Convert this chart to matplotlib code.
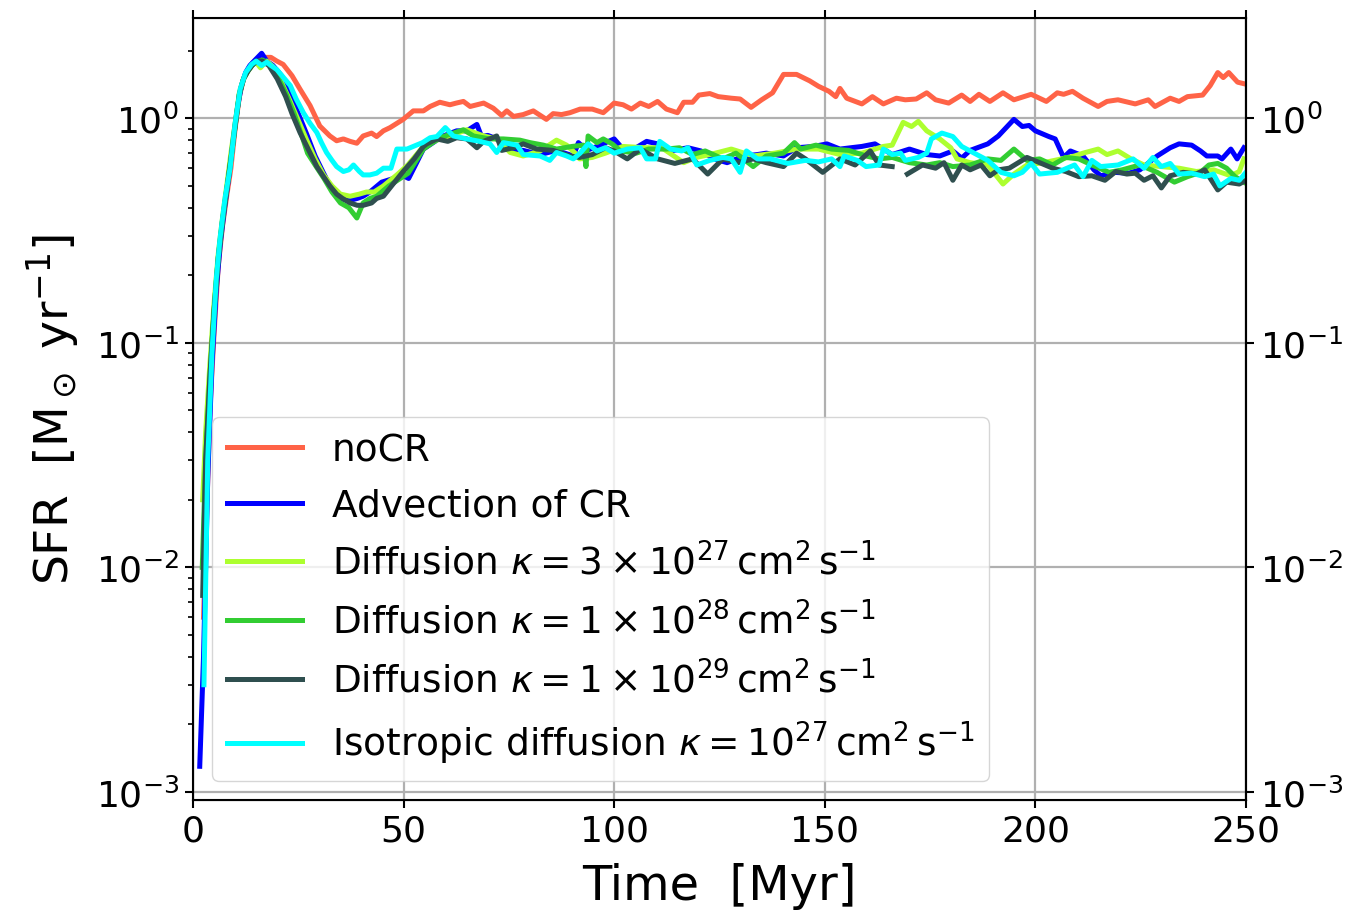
import numpy as np
import matplotlib
matplotlib.use("Agg")
import matplotlib.pyplot as plt

# ---- data: (time [Myr], SFR [Msun/yr]) ----
noCR = [(2.5,0.006),(4,0.05),(5,0.11),(6,0.22),(7,0.33),(8,0.45),(9,0.6),(10,0.9),(11,1.25),(12,1.5),(13,1.65),(14,1.75),(15,1.82),(16.7,1.87),(18.5,1.87),(19.9,1.8),(21.4,1.74),(23.5,1.55),(25.4,1.35),(27.8,1.14),(30.1,0.925),(32.5,0.835),(34.1,0.795),(35.7,0.81),(37.3,0.79),(38.9,0.775),(40.4,0.835),(42.4,0.86),(43.6,0.83),(45.2,0.88),(46.8,0.91),(49.9,0.99),(52.3,1.08),(54.7,1.08),(56.3,1.13),(58.6,1.18),(61,1.15),(62.5,1.17),(64.2,1.19),(65.8,1.13),(69,1.17),(71.3,1.11),(73.3,1.03),(74.5,1.08),(76.1,1.02),(78.4,1.04),(80.8,1.08),(83.9,0.99),(85.5,1.05),(87.5,1.04),(89.5,1.06),(91.9,1.10),(94.8,1.10),(97.4,1.06),(100,1.17),(102.1,1.15),(104.1,1.10),(106.2,1.17),(108.2,1.13),(110.3,1.19),(112.4,1.10),(115,1.06),(116.5,1.18),(118.6,1.18),(120.1,1.27),(122.7,1.29),(124.7,1.25),(127.8,1.23),(129.9,1.22),(132.5,1.12),(135,1.21),(137.6,1.30),(140.2,1.57),(143.3,1.57),(146.4,1.47),(148.5,1.39),(151,1.32),(152.6,1.25),(153.6,1.36),(155.2,1.23),(158.8,1.16),(161.3,1.25),(163.9,1.16),(167,1.23),(169.1,1.21),(171.7,1.22),(174.2,1.30),(176.3,1.21),(179.4,1.17),(182.5,1.27),(184.5,1.19),(186.6,1.28),(189.2,1.19),(192.3,1.30),(194.9,1.21),(199,1.28),(202.6,1.19),(205.2,1.30),(206.7,1.28),(208.8,1.32),(211.3,1.23),(214.9,1.13),(217,1.19),(219.6,1.21),(223.7,1.16),(226.8,1.21),(228.4,1.13),(232,1.23),(234.1,1.19),(236.1,1.25),(239.7,1.27),(241.5,1.40),(243.3,1.60),(244.6,1.52),(245.9,1.60),(248,1.45),(250,1.42)]

advection = [(1.6,0.0013),(2.5,0.004),(3.5,0.025),(4.5,0.08),(5.5,0.17),(6.5,0.28),(7.5,0.4),(8.5,0.55),(9.5,0.8),(10.5,1.1),(11.5,1.4),(12.5,1.6),(13.5,1.72),(14.5,1.8),(16.3,1.95),(17.5,1.8),(19,1.72),(21,1.55),(23,1.3),(25,1.05),(27,0.85),(29,0.68),(31,0.57),(33,0.48),(35,0.44),(37,0.43),(39,0.44),(40.4,0.45),(42,0.47),(44.8,0.52),(47.6,0.54),(49.5,0.56),(51.2,0.54),(53,0.63),(54.7,0.73),(57,0.78),(59.4,0.835),(62.6,0.88),(65,0.88),(67.4,0.94),(68.5,0.83),(70,0.84),(72.1,0.81),(75.3,0.73),(78.4,0.72),(82.4,0.69),(86.3,0.72),(90.3,0.68),(91.5,0.78),(93.5,0.72),(95.9,0.75),(100,0.81),(102.1,0.73),(105.2,0.74),(107.7,0.79),(110.3,0.77),(113.4,0.716),(117.5,0.74),(120.6,0.716),(123.7,0.66),(126.8,0.635),(130.9,0.68),(134,0.69),(136.1,0.70),(140.2,0.68),(143.3,0.74),(147.4,0.75),(150.5,0.77),(153.6,0.73),(156.2,0.74),(158.8,0.75),(161.9,0.77),(163.9,0.73),(166,0.69),(170.1,0.73),(174.2,0.69),(177.3,0.68),(180.4,0.716),(182.5,0.665),(184.5,0.72),(188.7,0.77),(191.2,0.835),(194.9,0.99),(196.9,0.92),(198.5,0.93),(200,0.88),(203.2,0.83),(204.7,0.81),(206.7,0.67),(208.3,0.716),(211.3,0.68),(213.9,0.59),(215.5,0.555),(218.6,0.575),(222.2,0.57),(224.8,0.59),(228.9,0.68),(232,0.74),(234.1,0.77),(237.1,0.76),(239.2,0.716),(240.7,0.68),(243.3,0.68),(244.3,0.66),(246.4,0.73),(247.9,0.66),(249.5,0.74)]

diff_3e27 = [(2.3,0.02),(3,0.04),(4,0.08),(5,0.15),(6,0.25),(7,0.36),(8,0.5),(9,0.7),(10,0.95),(11,1.3),(12,1.5),(13,1.62),(14,1.72),(15,1.78),(16,1.68),(17.5,1.8),(19,1.7),(21,1.45),(23,1.2),(25,0.98),(27,0.8),(29,0.66),(31,0.56),(33,0.5),(35,0.46),(37.3,0.45),(39.5,0.46),(41.2,0.47),(43,0.47),(45.2,0.50),(48.4,0.56),(51,0.62),(54.7,0.75),(57.9,0.80),(61,0.835),(65,0.89),(69,0.835),(72.1,0.81),(75.3,0.705),(78.4,0.68),(82.4,0.716),(86.3,0.80),(88.7,0.76),(91.1,0.69),(91.8,0.66),(94.8,0.67),(97.9,0.70),(102.1,0.75),(107.2,0.74),(111.3,0.74),(116.5,0.635),(119.5,0.67),(122.7,0.69),(127.8,0.73),(133,0.68),(138.1,0.70),(143.3,0.73),(148.5,0.73),(153.6,0.69),(158.8,0.70),(163.9,0.75),(166,0.76),(168.6,0.96),(170.6,0.92),(172.2,0.97),(174.2,0.88),(177.3,0.81),(179.9,0.74),(181.4,0.66),(184.5,0.635),(188.7,0.62),(192.3,0.51),(194.9,0.565),(198,0.62),(202,0.635),(206.2,0.66),(209.3,0.68),(211.3,0.70),(214.9,0.73),(217,0.69),(219.6,0.716),(222.7,0.66),(225.8,0.62),(229.9,0.61),(234.1,0.60),(238.2,0.58),(242.3,0.59),(246.4,0.555),(248.4,0.58),(249.5,0.66)]

diff_1e28 = [(2.2,0.01),(3,0.03),(4,0.07),(5,0.14),(6,0.24),(7,0.35),(8,0.48),(9,0.66),(10,0.92),(11,1.28),(12,1.5),(13,1.62),(14,1.72),(15,1.78),(16.5,1.82),(18,1.75),(20,1.55),(22,1.3),(24,1.05),(26,0.82),(27.2,0.70),(29,0.62),(31.1,0.54),(33,0.47),(35,0.42),(37,0.40),(38.9,0.36),(40.4,0.42),(42,0.44),(43.6,0.45),(46.5,0.50),(51.1,0.57),(54.7,0.73),(58.6,0.82),(64.2,0.89),(66.6,0.835),(70.5,0.81),(73.7,0.81),(77.6,0.80),(80,0.78),(83.2,0.76),(86.3,0.73),(90,0.75),(92.7,0.76),(93.3,0.61),(93.8,0.835),(95.9,0.78),(97.4,0.81),(99.5,0.77),(101.5,0.716),(105.2,0.70),(108.2,0.73),(112.4,0.73),(115.5,0.74),(118.6,0.69),(121.6,0.716),(125.8,0.66),(128.9,0.70),(133,0.61),(136.1,0.68),(140.2,0.70),(142.8,0.78),(144.3,0.73),(147.9,0.76),(151.6,0.73),(155.7,0.72),(159.8,0.68),(162.9,0.66),(166,0.67),(170.1,0.635),(174.2,0.62),(177.3,0.635),(180.4,0.61),(184.5,0.62),(188.7,0.66),(191.8,0.65),(194.9,0.73),(198,0.65),(201,0.66),(204.1,0.62),(207.2,0.67),(210.3,0.66),(213.4,0.62),(217.5,0.575),(220.6,0.59),(224.8,0.62),(228.9,0.575),(233,0.52),(236.1,0.55),(239.2,0.575),(241.2,0.62),(243.3,0.63),(245.4,0.60),(247.4,0.55),(249.5,0.52)]

diff_1e29 = [(2.3,0.0075),(3,0.03),(4,0.07),(5,0.14),(6,0.24),(7,0.35),(8,0.48),(9,0.66),(10,0.92),(11,1.28),(12,1.5),(13,1.62),(14,1.72),(15,1.8),(16.5,1.8),(18,1.72),(20,1.5),(22,1.25),(23.5,1.05),(25.4,0.865),(27.5,0.72),(29.4,0.61),(31,0.55),(32.5,0.50),(34.1,0.46),(35.5,0.44),(37.3,0.42),(39,0.41),(40.4,0.41),(42.4,0.42),(43.6,0.44),(45.2,0.45),(47.5,0.51),(49.9,0.58),(52.5,0.66),(54.7,0.75),(55.5,0.77),(57.9,0.81),(60.5,0.79),(62.6,0.82),(65,0.81),(67.4,0.74),(69,0.79),(72.1,0.835),(73.3,0.72),(76.1,0.74),(78.4,0.77),(81.6,0.73),(85.5,0.72),(89.5,0.68),(91.8,0.67),(94.8,0.69),(97.9,0.74),(100,0.716),(103.1,0.66),(106.2,0.73),(110.3,0.66),(114.4,0.63),(118.6,0.66),(122.2,0.565),(125.8,0.66),(129.4,0.635),(133,0.66),(136.1,0.635),(140.2,0.61),(143.3,0.70),(145.4,0.66),(149.5,0.575),(153.6,0.66),(157.2,0.62),(160.8,0.716),(162.9,0.62),(166,0.61),(167.5,np.nan),(169.6,0.565),(173.2,0.62),(176.3,0.60),(178.3,0.635),(180.4,0.53),(182.5,0.62),(184.5,0.59),(187.1,0.62),(189.2,0.555),(191.2,0.59),(193.8,0.60),(198,0.67),(201,0.635),(204.1,0.60),(207.2,0.58),(210.3,0.55),(213.4,0.555),(216.5,0.53),(219.1,0.58),(221.7,0.565),(223.7,0.57),(225.8,0.53),(227.9,0.555),(229.9,0.49),(232,0.555),(235.1,0.575),(238.2,0.565),(240.2,0.59),(243.3,0.48),(245.4,0.52),(248.4,0.51),(250,0.53)]

iso_1e27 = [(2.6,0.003),(3.5,0.03),(4.5,0.09),(5.5,0.19),(6.4,0.29),(7.6,0.44),(8.8,0.6),(10,0.95),(11.2,1.35),(12.5,1.6),(13.9,1.74),(15,1.8),(16.3,1.72),(17.5,1.78),(18.5,1.72),(19.9,1.65),(21.5,1.52),(23.1,1.40),(24.5,1.22),(26.2,1.06),(27.8,0.95),(29.4,0.865),(30.5,0.78),(31.7,0.705),(33,0.65),(34.1,0.61),(35.7,0.58),(37,0.59),(38.1,0.62),(39.5,0.58),(40.4,0.56),(42,0.56),(43.6,0.57),(45.2,0.60),(47,0.60),(48.4,0.73),(50.8,0.73),(52.3,0.75),(54.5,0.78),(56.3,0.82),(57.9,0.83),(59.9,0.91),(61.8,0.835),(65,0.81),(68.1,0.79),(70.5,0.77),(72.1,0.705),(73.7,0.78),(76.9,0.76),(78.4,0.69),(82.4,0.68),(84.7,0.65),(86.3,0.705),(88.7,0.68),(90.3,0.66),(91.9,0.70),(93.8,0.77),(95.9,0.716),(97.9,0.74),(100,0.70),(103.1,0.73),(106.2,0.74),(107.7,0.66),(109.8,0.66),(110.8,0.79),(113.4,0.73),(116,0.716),(117.5,0.74),(119.6,0.62),(122.7,0.65),(125.8,0.67),(127.8,0.66),(129.9,0.575),(131.4,0.716),(134,0.66),(137.1,0.66),(141.2,0.63),(145.4,0.65),(148.5,0.64),(151.6,0.66),(153.6,0.61),(154.6,0.68),(157.7,0.65),(159.8,0.61),(162.9,0.62),(163.9,0.73),(166,0.69),(168,0.70),(169.1,0.65),(172.2,0.67),(174.2,0.70),(175.3,0.81),(177.8,0.86),(180.4,0.83),(182.5,0.75),(184.5,0.716),(188.7,0.65),(191.8,0.575),(194.9,0.555),(196.9,0.575),(199,0.63),(201,0.565),(205.2,0.575),(209.3,0.62),(211.3,0.55),(213.4,0.65),(215.5,0.61),(219.6,0.62),(223.2,0.66),(225.8,0.60),(227.9,0.67),(229.9,0.61),(232,0.63),(234.1,0.565),(237.1,0.57),(240.2,0.55),(242.3,0.565),(243.8,0.50),(246.4,0.54),(248.4,0.53),(250,0.575)]

labels = [
    "noCR",
    "Advection of CR",
    r"Diffusion $\kappa = 3 \times 10^{27}\,\mathrm{cm}^2\,\mathrm{s}^{-1}$",
    r"Diffusion $\kappa = 1 \times 10^{28}\,\mathrm{cm}^2\,\mathrm{s}^{-1}$",
    r"Diffusion $\kappa = 1 \times 10^{29}\,\mathrm{cm}^2\,\mathrm{s}^{-1}$",
    r"Isotropic diffusion $\kappa = 10^{27}\,\mathrm{cm}^2\,\mathrm{s}^{-1}$",
]
colors = ["tomato", "blue", "greenyellow", "limegreen", "darkslategray", "cyan"]
series = [noCR, advection, diff_3e27, diff_1e28, diff_1e29, iso_1e27]

xticks = [0, 50, 100, 150, 200, 250]
xlim = (0, 250)
ylim = (9.2e-4, 2.8)

# ---- figure ----
fig = plt.figure(figsize=(13.56, 9.12), dpi=100)
ax = fig.add_axes([193/1356, 1 - 801/912, (1246-193)/1356, (801-19)/912])

for data, lab, col in zip(series, labels, colors):
    t, v = zip(*data)
    ax.plot(t, v, color=col, lw=3.6, label=lab)

ax.set_yscale("log")
ax.set_xlim(*xlim)
ax.set_ylim(*ylim)
ax.set_xticks(xticks)
ax.grid(True, which="major", color="#b0b0b0", lw=1.6)
ax.tick_params(axis="both", which="major", labelsize=26, direction="out",
               length=6, width=1.5, pad=4, top=True)
ax.tick_params(axis="y", which="minor", direction="out", length=3.5, width=1.2)
for s in ax.spines.values():
    s.set_linewidth(1.5)

ax2 = ax.twinx()
ax2.set_yscale("log")
ax2.set_ylim(*ylim)
ax2.tick_params(axis="y", which="major", labelsize=26, direction="out",
                length=6, width=1.5, pad=4)
ax2.tick_params(axis="y", which="minor", length=0)
ax2.spines["right"].set_linewidth(1.5)

ax.set_xlabel("Time  [Myr]", fontsize=34.5, labelpad=10)
ax.set_ylabel(r"SFR  [M$_\odot$ yr$^{-1}$]", fontsize=34, labelpad=10)

leg = ax.legend(loc="lower left", fontsize=27, handlelength=2.0,
                framealpha=0.8, fancybox=True, labelspacing=0.52)

fig.savefig("out.png", dpi=100)
